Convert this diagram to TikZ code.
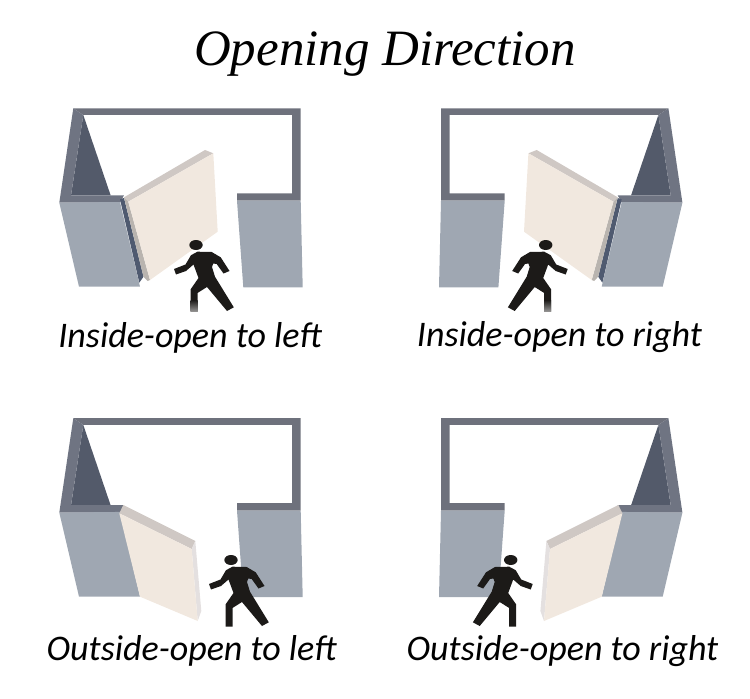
\documentclass[tikz,border=0pt]{standalone}
\usepackage{fontspec}
\setmainfont{Carlito}
\newfontfamily\titlefont{Liberation Serif}
\definecolor{wallcap}{HTML}{6E717C}
\definecolor{wallside}{HTML}{6F7482}
\definecolor{walldark}{HTML}{535A6A}
\definecolor{wallface}{HTML}{9FA7B2}
\definecolor{jamb}{HTML}{4F5A70}
\definecolor{doorface}{HTML}{F1E8DF}
\definecolor{dooredge}{HTML}{CFC8C4}
\definecolor{doorside}{HTML}{B9B4AF}
\definecolor{doorpale}{HTML}{E4E0E0}
\definecolor{ink}{HTML}{1C1A18}
\tikzset{
    caption/.style={font=\fontsize{20.5}{24}\selectfont\itshape}
}
\newcommand{\drawroom}{
    % Back wall and right return
    \fill[wallcap] (73.3,108.3) -- (300.7,108.3) -- (300.7,200.7) -- (237,200.7)
        -- (237,193.3) -- (292,193.3) -- (292,115) -- (83.3,115) -- cycle;
    % Left wall
    \fill[walldark] (83.3,115) -- (110.7,195.5) -- (71,195.5) -- cycle;
    \fill[wallside] (73.3,108.3) -- (59.3,202.7) -- (120,202.7) -- (124,195.3)
        -- (71,195.3) -- (83.3,115) -- cycle;
    % Front faces
    \fill[wallface] (59.3,202.7) -- (120,202) -- (140,286.7) -- (79,286.7) -- cycle;
    \fill[wallface] (237,200.7) -- (300.7,200.7) -- (302.7,287.3) -- (243.3,287.3) -- cycle;
}
\newcommand{\drawinsidedoor}{
    \fill[jamb] (120,199.3) -- (124,198) -- (143.5,276.7) -- (139.3,282.7) -- cycle;
    \fill[dooredge] (124,197.3) -- (205,150) -- (213.3,153.3) -- (128.3,201.7) -- cycle;
    \fill[doorside] (124,197.3) -- (128.3,201.7) -- (150,280) -- (147.5,281) -- (143.5,276.7) -- cycle;
    \fill[doorface] (128.3,201.7) -- (213.3,153.3) -- (217.7,231.7) -- (150,280) -- cycle;
}
\newcommand{\drawoutsidedoor}{
    \fill[dooredge] (119.3,513.3) -- (123.3,505) -- (195.3,541) -- (191.7,549) -- cycle;
    \fill[doorpale] (195.3,541) -- (201.3,611) -- (197.7,621) -- (191.7,549) -- cycle;
    \fill[doorface] (119.3,513.3) -- (191.7,549) -- (197.7,621) -- (140,596.7) -- cycle;
}
\newcommand{\drawwalker}{
    \fill[ink] (0,0) ellipse (6.7 and 5);
    \fill[ink] (1.5,6.7) -- (15.7,7) -- (24.7,12.3) -- (33.5,26) -- (27.5,28.5)
        -- (20.7,19) -- (17.3,18.5) -- (16,22) -- (19,31.7) -- (37.8,62.3) -- (31,66)
        -- (11,42) -- (1.5,48) -- (1.5,66.7) -- (-5.5,66.7) -- (-5.5,44.5) -- (2.5,33)
        -- (-2.5,19.5) -- (-10,26) -- (-20,29.5) -- (-22,24) -- (-10.5,19.5) -- (-5,10.2) -- cycle;
}
\begin{document}
\begin{tikzpicture}[x=0.02cm,y=-0.02cm]

    \useasboundingbox (0,0) rectangle (750,699);

    % Left column, then the same thing mirrored
    \foreach \flip/\mx in {1/0,-1/741.7}
    {
        \begin{scope}[shift={(\mx,0)},xscale=\flip]
            \drawroom
            \begin{scope}[yshift=-6.2cm]
                \drawroom
            \end{scope}

            % Inside-open
            \drawinsidedoor
            \begin{scope}[shift={(196,245)}]
                \drawwalker
                \shade[top color=ink,bottom color=ink!45] (-5.5,55) rectangle (1.5,66.7);
            \end{scope}

            % Outside-open
            \drawoutsidedoor
            \begin{scope}[shift={(231,560)}]
                \drawwalker
            \end{scope}
        \end{scope}
    }

    % Title
    \node (title) at (385,54) {\titlefont\fontsize{29}{33}\selectfont\itshape Opening Direction};

    % Labels
    \node[caption] (inleft) at (190,338) {Inside-open to left};
    \node[caption] (inright) at (559.5,337) {Inside-open to right};
    \node[caption] (outleft) at (191.5,651) {Outside-open to left};
    \node[caption] (outright) at (562.5,651) {Outside-open to right};

\end{tikzpicture}
\end{document}
